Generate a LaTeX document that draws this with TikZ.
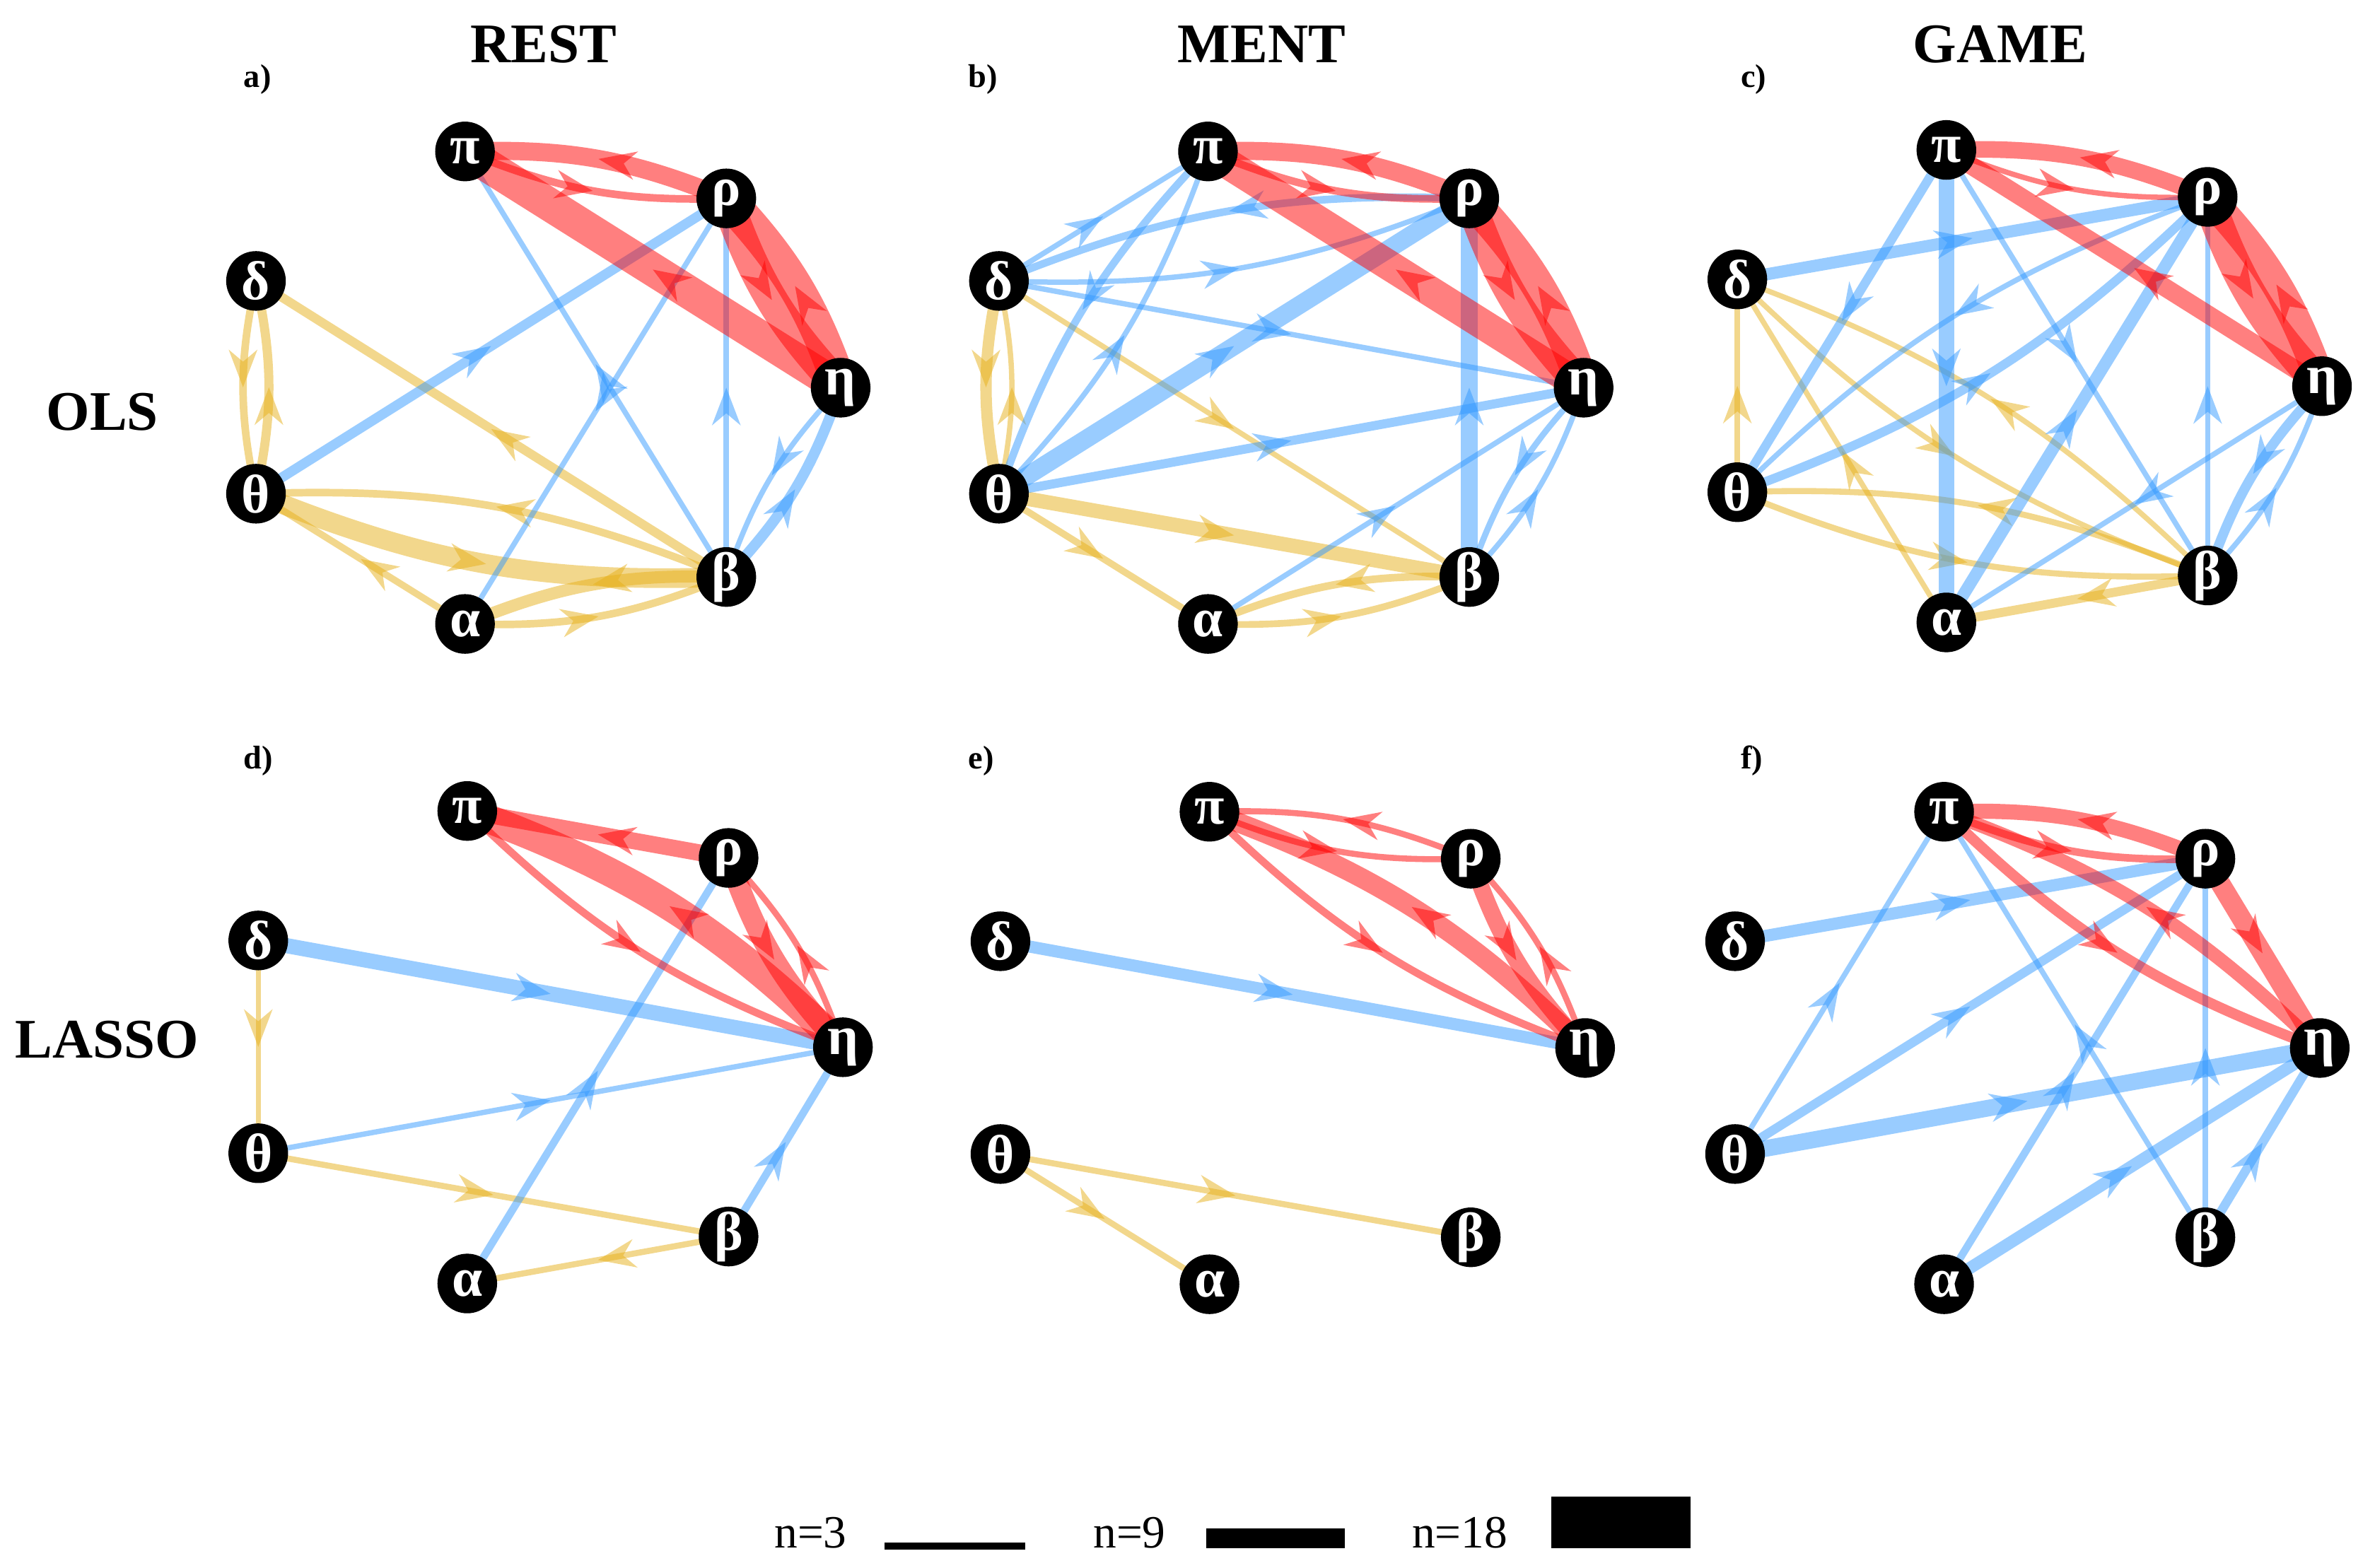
\documentclass[tikz,border=0pt]{standalone}
\usepackage{fontspec}
\setmainfont{Liberation Serif}
\usetikzlibrary{arrows.meta,decorations.markings}
\pgfdeclarelayer{bg}
\pgfsetlayers{bg,main}
\definecolor{cR}{RGB}{255,0,0}
\definecolor{cB}{RGB}{51,153,255}
\definecolor{cY}{RGB}{230,175,25}
\newcommand\estr[4]{\draw[#1=#2] (#3.center) -- (#4.center);}
\newcommand\ecur[4]{\draw[#1=#2] (#3.center) to[bend right=12] (#4.center);}
\newcommand\mkpanel[3]{%
 \begin{scope}[shift={(#2,#3)}]
  \node[gn] (#1p) at (0,0) {π};
  \node[gn] (#1r) at (172.5,31) {ρ};
  \node[gn] (#1d) at (-138,85.5) {δ};
  \node[gn] (#1h) at (248,156) {η};
  \node[gn] (#1t) at (-138,226) {θ};
  \node[gn] (#1b) at (172.5,281) {β};
  \node[gn] (#1a) at (0,312) {α};
 \end{scope}}
\begin{document}
\begin{tikzpicture}[x=0.021422cm, y=-0.021422cm,
  gn/.style={circle, fill=black, minimum size=24pt, inner sep=0pt, text=white,
     font=\fontsize{22}{22}\selectfont\bfseries},
  lw/.style={line width=#1*0.6095pt},
  mid/.style={postaction={decorate}, decoration={markings, mark=at position 0.5 with
     {\arrow{Stealth[length=15.2pt,width=11.6pt,inset=4.9pt,line width=0pt]}}}},
  ER/.style={draw=cR, opacity=0.5, lw=#1, mid},
  EB/.style={draw=cB, opacity=0.5, lw=#1, mid},
  EY/.style={draw=cY, opacity=0.5, lw=#1, mid},
  ttl/.style={font=\fontsize{22.5}{22.5}\selectfont\bfseries, inner sep=0pt, anchor=base},
  plet/.style={font=\fontsize{13.2}{13.2}\selectfont\bfseries, inner sep=0pt, anchor=base west},
  lgt/.style={font=\fontsize{18.6}{18.6}\selectfont, inner sep=0pt, anchor=base west}]
\useasboundingbox (0,0) rectangle (1568,1035);

% titles
\node[ttl] (tRest) at (359,41.3) {REST};
\node[ttl] (tMent) at (833,41.3) {MENT};
\node[ttl] (tGame) at (1320.5,41.3) {GAME};
\node[ttl] (tOls) at (67.5,284) {OLS};
\node[ttl] (tLasso) at (70.5,698.5) {LASSO};
\node[plet] (la) at (160.7,57.6) {a)};
\node[plet] (lb) at (639,57.6) {b)};
\node[plet] (lc) at (1149,57.6) {c)};
\node[plet] (ld) at (160.7,507.5) {d)};
\node[plet] (le) at (639,507.5) {e)};
\node[plet] (lf) at (1149,507.5) {f)};

% nodes
\mkpanel{a}{307}{100}
\mkpanel{b}{797.5}{100}
\mkpanel{c}{1285}{99}
\mkpanel{d}{308.5}{535.5}
\mkpanel{e}{798.5}{536}
\mkpanel{f}{1283.5}{536}

\begin{pgfonlayer}{bg}
% ---- panel a
\ecur{EY}{5}{ad}{at}
\ecur{EY}{6}{at}{ad}
\estr{EY}{6}{ab}{ad}
\ecur{EY}{5}{ab}{at}
\ecur{EY}{13}{at}{ab}
\estr{EY}{4.5}{aa}{at}
\ecur{EY}{8}{ab}{aa}
\ecur{EY}{5}{aa}{ab}
\estr{EB}{3.5}{ab}{ap}
\estr{EB}{3.5}{ab}{ar}
\estr{EB}{6.5}{at}{ar}
\estr{EB}{3.5}{ar}{aa}
\ecur{EB}{3.5}{ah}{ab}
\ecur{EB}{7}{ab}{ah}
\ecur{ER}{12}{ar}{ap}
\ecur{ER}{5}{ap}{ar}
\estr{ER}{22}{ah}{ap}
\ecur{ER}{21}{ar}{ah}
\ecur{ER}{23}{ah}{ar}
% ---- panel b
\ecur{EY}{7.5}{bd}{bt}
\ecur{EY}{3.5}{bt}{bd}
\estr{EY}{3.5}{bd}{bb}
\estr{EY}{9.5}{bt}{bb}
\estr{EY}{4.5}{bt}{ba}
\ecur{EY}{5}{bb}{ba}
\ecur{EY}{4.5}{ba}{bb}
\estr{EB}{3.5}{bd}{bp}
\ecur{EB}{5}{br}{bd}
\ecur{EB}{3.5}{bd}{br}
\estr{EB}{3.5}{bd}{bh}
\ecur{EB}{5}{bp}{bt}
\ecur{EB}{3.5}{bt}{bp}
\estr{EB}{12}{bt}{br}
\estr{EB}{6}{bt}{bh}
\estr{EB}{11}{bb}{br}
\estr{EB}{3.5}{ba}{bh}
\ecur{EB}{4}{bh}{bb}
\ecur{EB}{3.5}{bb}{bh}
\ecur{ER}{12}{br}{bp}
\ecur{ER}{5}{bp}{br}
\estr{ER}{20}{bh}{bp}
\ecur{ER}{20}{br}{bh}
\ecur{ER}{22}{bh}{br}
% ---- panel c
\estr{EY}{3.5}{ct}{cd}
\ecur{EY}{3.5}{cb}{cd}
\ecur{EY}{3.5}{cd}{cb}
\estr{EY}{3.5}{ca}{cd}
\ecur{EY}{4}{cb}{ct}
\ecur{EY}{4}{ct}{cb}
\estr{EY}{6}{cb}{ca}
\estr{EB}{8}{cd}{cr}
\estr{EB}{6}{cp}{ct}
\ecur{EB}{3.5}{cr}{ct}
\ecur{EB}{6}{ct}{cr}
\estr{EB}{10}{cp}{ca}
\estr{EB}{3.5}{cp}{cb}
\estr{EB}{8}{ca}{cr}
\estr{EB}{3.5}{ch}{ca}
\estr{EB}{3.5}{cb}{cr}
\ecur{EB}{6.5}{ch}{cb}
\ecur{EB}{3.5}{cb}{ch}
\ecur{ER}{11}{cr}{cp}
\ecur{ER}{3.5}{cp}{cr}
\estr{ER}{12}{ch}{cp}
\ecur{ER}{21}{cr}{ch}
\ecur{ER}{20}{ch}{cr}
% ---- panel d
\estr{EY}{3.5}{dd}{dt}
\estr{EY}{4}{dt}{db}
\estr{EY}{4}{db}{da}
\estr{EB}{10}{dd}{dh}
\estr{EB}{3.5}{dt}{dh}
\estr{EB}{5}{da}{dr}
\estr{EB}{5}{db}{dh}
\estr{ER}{11}{dr}{dp}
\ecur{ER}{19}{dh}{dp}
\ecur{ER}{5}{dp}{dh}
\ecur{ER}{14}{dr}{dh}
\ecur{ER}{4}{dh}{dr}
% ---- panel e
\estr{EY}{4}{et}{eb}
\estr{EY}{4}{et}{ea}
\estr{EB}{8}{ed}{eh}
\ecur{ER}{4}{er}{ep}
\ecur{ER}{4}{ep}{er}
\ecur{ER}{13}{eh}{ep}
\ecur{ER}{5}{ep}{eh}
\ecur{ER}{11}{er}{eh}
\ecur{ER}{4}{eh}{er}
% ---- panel f
\estr{EB}{8}{fd}{fr}
\estr{EB}{3.5}{ft}{fp}
\estr{EB}{6}{ft}{fr}
\estr{EB}{11}{ft}{fh}
\estr{EB}{3.5}{fb}{fp}
\estr{EB}{3.5}{fb}{fr}
\estr{EB}{5}{fa}{fr}
\estr{EB}{8}{fa}{fh}
\estr{EB}{6}{fb}{fh}
\ecur{ER}{10}{fr}{fp}
\ecur{ER}{5}{fp}{fr}
\ecur{ER}{9}{fh}{fp}
\ecur{ER}{7}{fp}{fh}
\estr{ER}{13}{fr}{fh}
\end{pgfonlayer}

% legend
\node[lgt] (n3) at (511,1022) {n=3};
\node[lgt] (n9) at (721.5,1022) {n=9};
\node[lgt] (n18) at (932,1022) {n=18};
\fill[black] (584,1018.6) rectangle (677,1023);
\fill[black] (796.5,1009) rectangle (888,1022.4);
\fill[black] (1024,988) rectangle (1116,1022.4);
\end{tikzpicture}
\end{document}
